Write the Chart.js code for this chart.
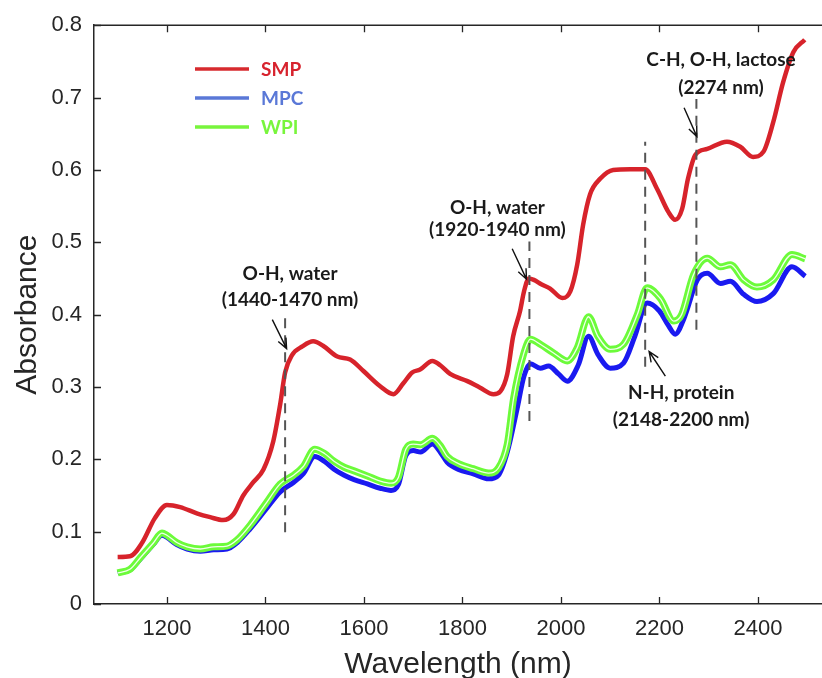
<!DOCTYPE html>
<html><head><meta charset="utf-8">
<script src="https://cdn.jsdelivr.net/npm/chart.js@4.4.1/dist/chart.umd.min.js"></script>
<style>html,body{margin:0;padding:0;background:#fff}#wrap{width:822px;height:678px;position:relative}</style>
</head><body><div id="wrap"><canvas id="c" width="822" height="678"></canvas></div>
<script>
// ---------- DATA ----------
const seriesNames = ['SMP', 'MPC', 'WPI'];

const smpNm  = [1100,1125,1150,1175,1200,1227,1262,1288,1314,1335,1355,1375,1396,1416,1430,1440,1454,1475,1497,1517,1546,1572,1599,1633,1660,1680,1698,1714,1739,1755,1775,1810,1836,1863,1877,1891,1903,1917,1925,1935,1945,1960,1978,2003,2019,2033,2045,2059,2080,2106,2141,2171,2195,2218,2232,2246,2258,2273,2297,2337,2364,2390,2411,2431,2451,2472,2495];
const smpAbs = [0.065,0.066,0.085,0.118,0.137,0.134,0.125,0.120,0.116,0.124,0.150,0.168,0.186,0.225,0.276,0.320,0.344,0.356,0.363,0.357,0.342,0.338,0.322,0.301,0.290,0.305,0.320,0.324,0.336,0.330,0.318,0.308,0.299,0.290,0.294,0.318,0.370,0.405,0.432,0.450,0.448,0.442,0.436,0.423,0.432,0.469,0.524,0.566,0.588,0.600,0.601,0.601,0.574,0.542,0.531,0.546,0.588,0.621,0.629,0.639,0.632,0.618,0.625,0.666,0.721,0.763,0.780];

const mpcNm  = [1100,1125,1146,1172,1190,1200,1220,1241,1268,1295,1322,1343,1369,1400,1430,1457,1477,1500,1520,1540,1560,1580,1607,1633,1655,1670,1685,1700,1715,1739,1755,1769,1792,1822,1853,1873,1891,1911,1925,1938,1958,1975,1995,2013,2035,2056,2075,2100,2127,2150,2175,2200,2218,2232,2250,2277,2297,2324,2344,2371,2398,2431,2469,2496];
const mpcAbs = [0.043,0.047,0.062,0.082,0.095,0.092,0.082,0.076,0.073,0.075,0.076,0.085,0.104,0.130,0.155,0.168,0.180,0.204,0.197,0.186,0.178,0.172,0.166,0.160,0.157,0.165,0.205,0.212,0.210,0.221,0.210,0.196,0.186,0.180,0.173,0.178,0.210,0.270,0.315,0.332,0.326,0.329,0.318,0.308,0.330,0.370,0.345,0.326,0.333,0.370,0.416,0.405,0.385,0.373,0.395,0.448,0.457,0.443,0.446,0.428,0.418,0.429,0.466,0.453];

const wpiNm  = [1100,1125,1146,1172,1190,1200,1220,1241,1268,1295,1322,1343,1369,1400,1430,1457,1477,1500,1520,1540,1560,1580,1607,1633,1655,1670,1685,1700,1715,1739,1755,1769,1792,1822,1853,1873,1891,1904,1924,1938,1958,1985,2013,2033,2056,2075,2100,2127,2155,2175,2202,2229,2245,2269,2297,2324,2344,2371,2398,2431,2469,2496];
const wpiAbs = [0.043,0.048,0.064,0.084,0.098,0.095,0.085,0.079,0.076,0.079,0.080,0.089,0.109,0.138,0.166,0.178,0.190,0.214,0.208,0.197,0.189,0.184,0.177,0.170,0.167,0.175,0.214,0.221,0.220,0.229,0.219,0.204,0.194,0.187,0.181,0.188,0.221,0.285,0.345,0.366,0.359,0.347,0.336,0.354,0.397,0.370,0.352,0.359,0.400,0.437,0.422,0.391,0.400,0.455,0.478,0.466,0.469,0.448,0.438,0.448,0.483,0.477];

const xTicks = [1200, 1400, 1600, 1800, 2000, 2200, 2400];
const yTicks = [0, 0.1, 0.2, 0.3, 0.4, 0.5, 0.6, 0.7, 0.8];

// band markers (dashed lines): wavelength, bottom and top absorbance
const bandNm   = [1440, 1936, 2171, 2275];
const bandLow  = [0.099, 0.253, 0.328, 0.379];
const bandHigh = [0.402, 0.501, 0.639, 0.698];

// annotation texts, anchored at (wavelength, absorbance)
const noteLines = [['O-H, water', '(1440-1470 nm)'], ['O-H, water', '(1920-1940 nm)'], ['C-H, O-H, lactose', '(2274 nm)'], ['N-H, protein', '(2148-2200 nm)']];
const noteNm    = [1450, 1871, 2325, 2244];
const noteAbs   = [[0.456, 0.421], [0.548, 0.5175], [0.752, 0.713], [0.2915, 0.254]];

// arrows: tail (nm, abs) -> head (nm, abs)
const arrowTail = [[1414, 0.393], [1901, 0.491], [2250, 0.686], [2212, 0.315]];
const arrowHead = [[1443, 0.353], [1930, 0.449], [2276, 0.646], [2179, 0.349]];

// ---------- STYLE ----------
const lineColors   = ['#d7232b', '#1a1af0', '#6cfb3a'];
const legendLine   = ['#d72a2e', '#5a78d7', '#78f53c'];
const legendText   = ['#d7232e', '#5a78d7', '#78f53c'];
const inkColor = '#262626';
const annoFont = 'bold 19px Lato, "Open Sans", sans-serif';

function pts(nm, ab) { return nm.map((v, i) => ({x: v, y: ab[i]})); }

const datasets = [];
bandNm.forEach((nm, i) => {
  datasets.push({
    label: 'band' + i, data: [{x: nm, y: bandLow[i]}, {x: nm, y: bandHigh[i]}],
    borderColor: '#555555', borderWidth: 2, borderDash: [10, 7], pointRadius: 0, order: 0
  });
});
datasets.push({label: 'SMP', data: pts(smpNm, smpAbs), borderColor: lineColors[0], borderWidth: 4.5, pointRadius: 0, cubicInterpolationMode: 'monotone', order: 3});
datasets.push({label: 'WPI-core', data: pts(wpiNm, wpiAbs), borderColor: 'rgba(255,255,255,0.9)', borderWidth: 1.3, pointRadius: 0, cubicInterpolationMode: 'monotone', order: 4});
datasets.push({label: 'WPI', data: pts(wpiNm, wpiAbs), borderColor: lineColors[2], borderWidth: 7, pointRadius: 0, cubicInterpolationMode: 'monotone', order: 5});
datasets.push({label: 'MPC', data: pts(mpcNm, mpcAbs), borderColor: lineColors[1], borderWidth: 5, pointRadius: 0, cubicInterpolationMode: 'monotone', order: 6});

const decor = {
  id: 'decor',
  afterDraw(chart) {
    const {ctx, chartArea: a, scales: {x, y}} = chart;
    ctx.save();
    // frame top line + inward ticks
    ctx.strokeStyle = inkColor; ctx.lineWidth = 1.5;
    ctx.beginPath(); ctx.moveTo(a.left, a.top); ctx.lineTo(a.right, a.top); ctx.stroke();
    ctx.lineWidth = 1.3;
    ctx.beginPath();
    xTicks.forEach(v => {
      const px = Math.round(x.getPixelForValue(v)) + 0.5;
      ctx.moveTo(px, a.bottom); ctx.lineTo(px, a.bottom - 7);
      ctx.moveTo(px, a.top); ctx.lineTo(px, a.top + 7);
    });
    yTicks.forEach(v => {
      const py = Math.round(y.getPixelForValue(v)) + 0.5;
      ctx.moveTo(a.left, py); ctx.lineTo(a.left + 7, py);
    });
    ctx.stroke();

    // legend
    ctx.font = 'bold 19px Lato, "Open Sans", sans-serif';
    ctx.textBaseline = 'middle'; ctx.textAlign = 'left';
    seriesNames.forEach((n, i) => {
      const ly = 69 + i * 29;
      ctx.strokeStyle = legendLine[i]; ctx.lineWidth = 3.5;
      ctx.beginPath(); ctx.moveTo(195, ly); ctx.lineTo(249, ly); ctx.stroke();
      ctx.fillStyle = legendText[i];
      ctx.fillText(n, 261, ly + 1);
    });

    // annotation texts
    ctx.font = annoFont; ctx.fillStyle = '#1a1a1a'; ctx.textAlign = 'center';
    noteLines.forEach((lines, i) => {
      lines.forEach((t, j) => {
        ctx.fillText(t, x.getPixelForValue(noteNm[i]), y.getPixelForValue(noteAbs[i][j]));
      });
    });

    // arrows
    ctx.strokeStyle = '#111'; ctx.lineWidth = 1.4;
    arrowTail.forEach((t, i) => {
      const x0 = x.getPixelForValue(t[0]), y0 = y.getPixelForValue(t[1]);
      const x1 = x.getPixelForValue(arrowHead[i][0]), y1 = y.getPixelForValue(arrowHead[i][1]);
      const ang = Math.atan2(y1 - y0, x1 - x0), h = 11;
      ctx.beginPath();
      ctx.moveTo(x0, y0); ctx.lineTo(x1, y1);
      ctx.moveTo(x1 - h * Math.cos(ang - 0.4), y1 - h * Math.sin(ang - 0.4));
      ctx.lineTo(x1, y1);
      ctx.lineTo(x1 - h * Math.cos(ang + 0.4), y1 - h * Math.sin(ang + 0.4));
      ctx.stroke();
    });
    ctx.restore();
  }
};

new Chart(document.getElementById('c'), {
  type: 'line',
  data: {datasets},
  options: {
    responsive: false, animation: false, devicePixelRatio: 1,
    layout: {padding: {top: 23, right: 0, left: 0, bottom: 0}},
    plugins: {legend: {display: false}, tooltip: {enabled: false}},
    scales: {
      x: {
        type: 'linear', min: 1052, max: 2530,
        afterBuildTicks: s => { s.ticks = xTicks.map(v => ({value: v})); },
        afterFit: s => { s.height = 74; },
        grid: {display: false, drawTicks: false},
        border: {display: true, color: inkColor, width: 1.5},
        ticks: {padding: 12, color: inkColor, font: {family: '"Liberation Sans", Arial, sans-serif', size: 22}, callback: v => String(v), maxRotation: 0},
        title: {display: true, text: 'Wavelength (nm)', color: inkColor, font: {family: '"Liberation Sans", Arial, sans-serif', size: 30, lineHeight: 0.8}, padding: {top: 0, bottom: 1}}
      },
      y: {
        min: 0, max: 0.8,
        afterBuildTicks: s => { s.ticks = yTicks.map(v => ({value: v})); },
        afterFit: s => { s.width = 94; },
        grid: {display: false, drawTicks: false},
        border: {display: true, color: inkColor, width: 1.5},
        ticks: {padding: 12, color: inkColor, font: {family: '"Liberation Sans", Arial, sans-serif', size: 22}, callback: v => v === 0 ? '0' : v.toFixed(1)},
        title: {display: true, text: 'Absorbance', color: inkColor, font: {family: '"Liberation Sans", Arial, sans-serif', size: 30, lineHeight: 1}, padding: {top: 13, bottom: 0}}
      }
    }
  },
  plugins: [decor]
});
</script></body></html>
